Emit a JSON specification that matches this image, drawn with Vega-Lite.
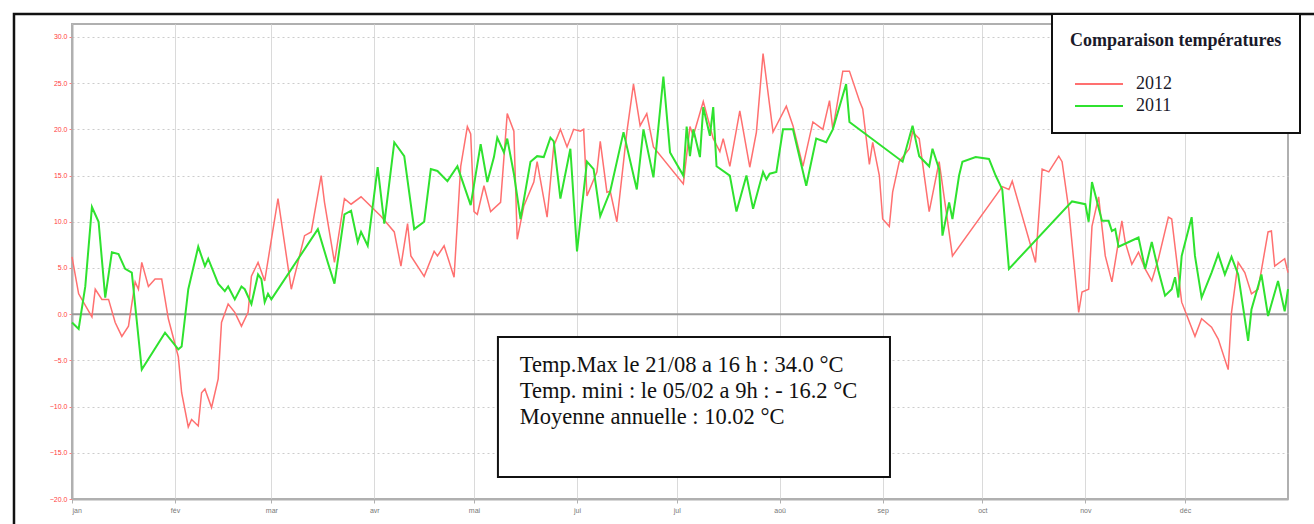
{
  "$schema": "https://vega.github.io/schema/vega-lite/v6.json",
  "width": 1216,
  "height": 475,
  "autosize": {"type": "none"},
  "padding": {"left": 72, "top": 24, "right": 26, "bottom": 25},
  "background": "white",
  "config": {
    "view": {"stroke": "#b0b0b0", "strokeWidth": 2},
    "font": "Liberation Sans"
  },
  "data": {"values": [
    {"serie":"2012","jour":0,"temp":6.2},{"serie":"2012","jour":2,"temp":2.2},{"serie":"2012","jour":6,"temp":-0.3},{"serie":"2012","jour":7,"temp":2.7},{"serie":"2012","jour":9,"temp":1.6},{"serie":"2012","jour":11,"temp":1.6},{"serie":"2012","jour":13,"temp":-0.9},{"serie":"2012","jour":15,"temp":-2.4},{"serie":"2012","jour":17,"temp":-1.3},{"serie":"2012","jour":19,"temp":3.5},{"serie":"2012","jour":20,"temp":2.7},{"serie":"2012","jour":21,"temp":5.6},{"serie":"2012","jour":23,"temp":3.0},{"serie":"2012","jour":25,"temp":3.8},{"serie":"2012","jour":27,"temp":3.8},{"serie":"2012","jour":29,"temp":-0.5},{"serie":"2012","jour":32,"temp":-4.6},{"serie":"2012","jour":33,"temp":-8.5},{"serie":"2012","jour":35,"temp":-12.2},{"serie":"2012","jour":36,"temp":-11.4},{"serie":"2012","jour":38,"temp":-12.1},{"serie":"2012","jour":39,"temp":-8.5},{"serie":"2012","jour":40,"temp":-8.1},{"serie":"2012","jour":42,"temp":-10.1},{"serie":"2012","jour":44,"temp":-7.0},{"serie":"2012","jour":45,"temp":-0.9},{"serie":"2012","jour":47,"temp":1.1},{"serie":"2012","jour":49,"temp":0.2},{"serie":"2012","jour":51,"temp":-1.3},{"serie":"2012","jour":53,"temp":0.2},{"serie":"2012","jour":54,"temp":4.1},{"serie":"2012","jour":56,"temp":5.6},{"serie":"2012","jour":58,"temp":3.6},{"serie":"2012","jour":62,"temp":12.5},{"serie":"2012","jour":66,"temp":2.7},{"serie":"2012","jour":70,"temp":8.5},{"serie":"2012","jour":72,"temp":8.9},{"serie":"2012","jour":75,"temp":15.0},{"serie":"2012","jour":76,"temp":12.1},{"serie":"2012","jour":79,"temp":5.6},{"serie":"2012","jour":82,"temp":12.5},{"serie":"2012","jour":84,"temp":11.9},{"serie":"2012","jour":87,"temp":12.7},{"serie":"2012","jour":93,"temp":10.6},{"serie":"2012","jour":97,"temp":8.9},{"serie":"2012","jour":99,"temp":5.2},{"serie":"2012","jour":101,"temp":9.8},{"serie":"2012","jour":102,"temp":6.3},{"serie":"2012","jour":106,"temp":4.1},{"serie":"2012","jour":109,"temp":6.8},{"serie":"2012","jour":110,"temp":6.3},{"serie":"2012","jour":112,"temp":7.4},{"serie":"2012","jour":115,"temp":4.0},{"serie":"2012","jour":117,"temp":16.0},{"serie":"2012","jour":119,"temp":20.3},{"serie":"2012","jour":120,"temp":19.5},{"serie":"2012","jour":121,"temp":11.1},{"serie":"2012","jour":122,"temp":10.8},{"serie":"2012","jour":124,"temp":13.9},{"serie":"2012","jour":126,"temp":11.1},{"serie":"2012","jour":129,"temp":12.1},{"serie":"2012","jour":131,"temp":21.7},{"serie":"2012","jour":133,"temp":19.8},{"serie":"2012","jour":134,"temp":8.1},{"serie":"2012","jour":136,"temp":11.7},{"serie":"2012","jour":139,"temp":14.3},{"serie":"2012","jour":140,"temp":16.5},{"serie":"2012","jour":143,"temp":10.5},{"serie":"2012","jour":145,"temp":18.2},{"serie":"2012","jour":147,"temp":20.0},{"serie":"2012","jour":149,"temp":18.1},{"serie":"2012","jour":151,"temp":20.0},{"serie":"2012","jour":153,"temp":19.8},{"serie":"2012","jour":154,"temp":20.0},{"serie":"2012","jour":155,"temp":12.8},{"serie":"2012","jour":158,"temp":15.4},{"serie":"2012","jour":159,"temp":18.7},{"serie":"2012","jour":161,"temp":13.2},{"serie":"2012","jour":162,"temp":13.3},{"serie":"2012","jour":164,"temp":10.0},{"serie":"2012","jour":167,"temp":19.7},{"serie":"2012","jour":169,"temp":24.9},{"serie":"2012","jour":171,"temp":20.4},{"serie":"2012","jour":173,"temp":21.7},{"serie":"2012","jour":175,"temp":18.1},{"serie":"2012","jour":184,"temp":14.1},{"serie":"2012","jour":186,"temp":20.3},{"serie":"2012","jour":187,"temp":19.3},{"serie":"2012","jour":190,"temp":23.0},{"serie":"2012","jour":193,"temp":19.0},{"serie":"2012","jour":195,"temp":17.6},{"serie":"2012","jour":196,"temp":19.0},{"serie":"2012","jour":198,"temp":16.0},{"serie":"2012","jour":201,"temp":22.0},{"serie":"2012","jour":204,"temp":15.9},{"serie":"2012","jour":206,"temp":19.7},{"serie":"2012","jour":208,"temp":28.2},{"serie":"2012","jour":211,"temp":19.7},{"serie":"2012","jour":215,"temp":22.5},{"serie":"2012","jour":217,"temp":20.4},{"serie":"2012","jour":220,"temp":16.0},{"serie":"2012","jour":223,"temp":20.8},{"serie":"2012","jour":226,"temp":20.0},{"serie":"2012","jour":228,"temp":23.1},{"serie":"2012","jour":229,"temp":20.0},{"serie":"2012","jour":232,"temp":26.3},{"serie":"2012","jour":234,"temp":26.3},{"serie":"2012","jour":237,"temp":23.1},{"serie":"2012","jour":238,"temp":22.2},{"serie":"2012","jour":240,"temp":16.2},{"serie":"2012","jour":241,"temp":18.6},{"serie":"2012","jour":243,"temp":15.0},{"serie":"2012","jour":244,"temp":10.3},{"serie":"2012","jour":246,"temp":9.5},{"serie":"2012","jour":247,"temp":13.2},{"serie":"2012","jour":249,"temp":16.5},{"serie":"2012","jour":252,"temp":17.9},{"serie":"2012","jour":253,"temp":19.7},{"serie":"2012","jour":255,"temp":19.0},{"serie":"2012","jour":258,"temp":11.1},{"serie":"2012","jour":261,"temp":16.5},{"serie":"2012","jour":265,"temp":6.3},{"serie":"2012","jour":280,"temp":13.8},{"serie":"2012","jour":282,"temp":13.5},{"serie":"2012","jour":283,"temp":14.4},{"serie":"2012","jour":290,"temp":5.6},{"serie":"2012","jour":292,"temp":15.7},{"serie":"2012","jour":294,"temp":15.4},{"serie":"2012","jour":297,"temp":17.1},{"serie":"2012","jour":298,"temp":16.5},{"serie":"2012","jour":300,"temp":11.4},{"serie":"2012","jour":303,"temp":0.2},{"serie":"2012","jour":304,"temp":2.4},{"serie":"2012","jour":306,"temp":2.7},{"serie":"2012","jour":307,"temp":9.5},{"serie":"2012","jour":309,"temp":12.7},{"serie":"2012","jour":311,"temp":6.3},{"serie":"2012","jour":313,"temp":3.5},{"serie":"2012","jour":316,"temp":10.1},{"serie":"2012","jour":317,"temp":7.8},{"serie":"2012","jour":319,"temp":5.4},{"serie":"2012","jour":321,"temp":6.7},{"serie":"2012","jour":323,"temp":4.9},{"serie":"2012","jour":325,"temp":3.6},{"serie":"2012","jour":327,"temp":6.0},{"serie":"2012","jour":330,"temp":10.5},{"serie":"2012","jour":331,"temp":10.3},{"serie":"2012","jour":333,"temp":4.3},{"serie":"2012","jour":334,"temp":1.3},{"serie":"2012","jour":338,"temp":-2.4},{"serie":"2012","jour":340,"temp":-0.5},{"serie":"2012","jour":343,"temp":-1.4},{"serie":"2012","jour":345,"temp":-2.7},{"serie":"2012","jour":348,"temp":-6.0},{"serie":"2012","jour":349,"temp":0.2},{"serie":"2012","jour":351,"temp":5.6},{"serie":"2012","jour":353,"temp":4.5},{"serie":"2012","jour":355,"temp":2.2},{"serie":"2012","jour":357,"temp":2.7},{"serie":"2012","jour":360,"temp":8.9},{"serie":"2012","jour":361,"temp":9.0},{"serie":"2012","jour":362,"temp":5.2},{"serie":"2012","jour":365,"temp":6.0},{"serie":"2012","jour":366,"temp":4.5},
    {"serie":"2011","jour":0,"temp":-0.9},{"serie":"2011","jour":2,"temp":-1.6},{"serie":"2011","jour":4,"temp":3.0},{"serie":"2011","jour":6,"temp":11.6},{"serie":"2011","jour":8,"temp":10.0},{"serie":"2011","jour":10,"temp":1.8},{"serie":"2011","jour":12,"temp":6.7},{"serie":"2011","jour":14,"temp":6.5},{"serie":"2011","jour":16,"temp":4.9},{"serie":"2011","jour":18,"temp":4.5},{"serie":"2011","jour":21,"temp":-6.0},{"serie":"2011","jour":28,"temp":-2.0},{"serie":"2011","jour":32,"temp":-3.8},{"serie":"2011","jour":33,"temp":-3.5},{"serie":"2011","jour":35,"temp":2.7},{"serie":"2011","jour":38,"temp":7.3},{"serie":"2011","jour":40,"temp":5.2},{"serie":"2011","jour":41,"temp":6.0},{"serie":"2011","jour":44,"temp":3.3},{"serie":"2011","jour":46,"temp":2.5},{"serie":"2011","jour":47,"temp":3.0},{"serie":"2011","jour":49,"temp":1.6},{"serie":"2011","jour":51,"temp":3.0},{"serie":"2011","jour":52,"temp":2.7},{"serie":"2011","jour":54,"temp":1.1},{"serie":"2011","jour":56,"temp":4.3},{"serie":"2011","jour":57,"temp":3.8},{"serie":"2011","jour":58,"temp":1.3},{"serie":"2011","jour":59,"temp":2.2},{"serie":"2011","jour":60,"temp":1.6},{"serie":"2011","jour":74,"temp":9.2},{"serie":"2011","jour":77,"temp":5.6},{"serie":"2011","jour":79,"temp":3.3},{"serie":"2011","jour":82,"temp":10.8},{"serie":"2011","jour":84,"temp":11.2},{"serie":"2011","jour":86,"temp":7.8},{"serie":"2011","jour":87,"temp":8.9},{"serie":"2011","jour":89,"temp":7.4},{"serie":"2011","jour":92,"temp":15.9},{"serie":"2011","jour":94,"temp":9.8},{"serie":"2011","jour":97,"temp":18.6},{"serie":"2011","jour":100,"temp":17.1},{"serie":"2011","jour":103,"temp":9.2},{"serie":"2011","jour":106,"temp":10.0},{"serie":"2011","jour":108,"temp":15.7},{"serie":"2011","jour":110,"temp":15.5},{"serie":"2011","jour":113,"temp":14.4},{"serie":"2011","jour":116,"temp":16.0},{"serie":"2011","jour":120,"temp":11.8},{"serie":"2011","jour":123,"temp":18.4},{"serie":"2011","jour":125,"temp":14.3},{"serie":"2011","jour":127,"temp":17.0},{"serie":"2011","jour":128,"temp":19.1},{"serie":"2011","jour":130,"temp":17.5},{"serie":"2011","jour":131,"temp":19.0},{"serie":"2011","jour":133,"temp":15.2},{"serie":"2011","jour":135,"temp":10.3},{"serie":"2011","jour":138,"temp":16.5},{"serie":"2011","jour":140,"temp":17.1},{"serie":"2011","jour":142,"temp":17.0},{"serie":"2011","jour":144,"temp":19.1},{"serie":"2011","jour":145,"temp":18.7},{"serie":"2011","jour":147,"temp":12.5},{"serie":"2011","jour":150,"temp":17.9},{"serie":"2011","jour":152,"temp":6.8},{"serie":"2011","jour":155,"temp":16.5},{"serie":"2011","jour":157,"temp":15.7},{"serie":"2011","jour":159,"temp":10.6},{"serie":"2011","jour":162,"temp":13.3},{"serie":"2011","jour":166,"temp":19.7},{"serie":"2011","jour":170,"temp":13.5},{"serie":"2011","jour":172,"temp":20.0},{"serie":"2011","jour":175,"temp":14.8},{"serie":"2011","jour":178,"temp":25.7},{"serie":"2011","jour":180,"temp":17.5},{"serie":"2011","jour":184,"temp":15.0},{"serie":"2011","jour":185,"temp":20.3},{"serie":"2011","jour":186,"temp":17.1},{"serie":"2011","jour":187,"temp":20.0},{"serie":"2011","jour":189,"temp":17.0},{"serie":"2011","jour":190,"temp":22.4},{"serie":"2011","jour":192,"temp":19.3},{"serie":"2011","jour":193,"temp":22.4},{"serie":"2011","jour":194,"temp":16.0},{"serie":"2011","jour":198,"temp":15.0},{"serie":"2011","jour":200,"temp":11.1},{"serie":"2011","jour":203,"temp":15.0},{"serie":"2011","jour":205,"temp":11.4},{"serie":"2011","jour":208,"temp":15.4},{"serie":"2011","jour":209,"temp":14.6},{"serie":"2011","jour":210,"temp":15.2},{"serie":"2011","jour":212,"temp":15.4},{"serie":"2011","jour":214,"temp":20.0},{"serie":"2011","jour":217,"temp":20.0},{"serie":"2011","jour":221,"temp":13.9},{"serie":"2011","jour":224,"temp":19.0},{"serie":"2011","jour":227,"temp":18.6},{"serie":"2011","jour":229,"temp":20.0},{"serie":"2011","jour":233,"temp":24.9},{"serie":"2011","jour":234,"temp":20.8},{"serie":"2011","jour":250,"temp":16.5},{"serie":"2011","jour":253,"temp":20.4},{"serie":"2011","jour":255,"temp":17.1},{"serie":"2011","jour":258,"temp":16.0},{"serie":"2011","jour":259,"temp":17.9},{"serie":"2011","jour":261,"temp":15.7},{"serie":"2011","jour":262,"temp":8.5},{"serie":"2011","jour":264,"temp":12.1},{"serie":"2011","jour":265,"temp":10.3},{"serie":"2011","jour":267,"temp":15.0},{"serie":"2011","jour":268,"temp":16.5},{"serie":"2011","jour":272,"temp":17.0},{"serie":"2011","jour":276,"temp":16.8},{"serie":"2011","jour":278,"temp":15.0},{"serie":"2011","jour":280,"temp":13.5},{"serie":"2011","jour":282,"temp":4.9},{"serie":"2011","jour":301,"temp":12.2},{"serie":"2011","jour":305,"temp":11.9},{"serie":"2011","jour":306,"temp":10.0},{"serie":"2011","jour":307,"temp":14.3},{"serie":"2011","jour":310,"temp":10.1},{"serie":"2011","jour":312,"temp":10.1},{"serie":"2011","jour":313,"temp":9.0},{"serie":"2011","jour":314,"temp":9.2},{"serie":"2011","jour":315,"temp":7.3},{"serie":"2011","jour":321,"temp":8.3},{"serie":"2011","jour":323,"temp":4.9},{"serie":"2011","jour":325,"temp":7.8},{"serie":"2011","jour":327,"temp":4.7},{"serie":"2011","jour":329,"temp":2.0},{"serie":"2011","jour":331,"temp":2.7},{"serie":"2011","jour":332,"temp":4.0},{"serie":"2011","jour":333,"temp":1.8},{"serie":"2011","jour":334,"temp":6.3},{"serie":"2011","jour":337,"temp":10.5},{"serie":"2011","jour":338,"temp":6.3},{"serie":"2011","jour":340,"temp":1.8},{"serie":"2011","jour":343,"temp":4.5},{"serie":"2011","jour":345,"temp":6.5},{"serie":"2011","jour":347,"temp":4.3},{"serie":"2011","jour":349,"temp":6.2},{"serie":"2011","jour":351,"temp":4.3},{"serie":"2011","jour":354,"temp":-2.9},{"serie":"2011","jour":355,"temp":0.5},{"serie":"2011","jour":358,"temp":4.3},{"serie":"2011","jour":360,"temp":-0.2},{"serie":"2011","jour":363,"temp":3.6},{"serie":"2011","jour":365,"temp":0.3},{"serie":"2011","jour":366,"temp":2.7}
  ]},
  "layer": [
    {
      "data": {"values": [{"cadre": "page"}]},
      "mark": {"type": "rect", "fill": null, "stroke": "#111111", "strokeWidth": 2.5},
      "encoding": {
        "x": {"datum": -17.46, "type": "quantitative", "scale": {"domain": [0, 366], "nice": false, "zero": false},
              "axis": {"values": [0,31,60,91,121,152,182,213,244,274,305,335], "labelExpr": "['jan','fév','mar','avr','mai','jui','jul','aoû','sep','oct','nov','déc'][indexof([0,31,60,91,121,152,182,213,244,274,305,335], datum.value)]", "title": null, "grid": true, "gridColor": "#dadada", "gridWidth": 1, "domainColor": "#b0b0b0", "domainWidth": 2, "tickColor": "#b0b0b0", "tickSize": 4, "labelColor": "#777777", "labelFontSize": 7, "labelPadding": 3}},
        "x2": {"datum": 430},
        "y": {"datum": 32.48, "type": "quantitative", "scale": {"domain": [-20, 31.4], "nice": false, "zero": false},
              "axis": {"values": [-20,-15,-10,-5,0,5,10,15,20,25,30], "format": ".1f", "title": null, "grid": true, "gridColor": "#cccccc", "gridDash": [2, 3], "gridWidth": 1, "domainColor": "#b0b0b0", "domainWidth": 2, "tickColor": "#ff8080", "tickSize": 3, "labelColor": "#ff4040", "labelFontSize": 7, "labelPadding": 2}},
        "y2": {"datum": -30}
      }
    },
    {
      "data": {"values": [{"niveau": 0}]},
      "mark": {"type": "rule", "color": "#999999", "strokeWidth": 2},
      "encoding": {"y": {"field": "niveau", "type": "quantitative"}}
    },
    {
      "transform": [{"filter": "datum.serie == '2012'"}],
      "mark": {"type": "line", "strokeWidth": 1.5, "interpolate": "linear"},
      "encoding": {
        "x": {"field": "jour", "type": "quantitative"},
        "y": {"field": "temp", "type": "quantitative"},
        "color": {"field": "serie", "type": "nominal",
                  "scale": {"domain": ["2012", "2011"], "range": ["#ff7070", "#2fe22f"]},
                  "legend": {"orient": "none", "legendX": 980, "legendY": -10, "title": "Comparaison températures\u00a0\u00a0\u00a0\u00a0\u00a0\u00a0\u00a0", "titleLimit": 500, "titleFont": "Liberation Serif", "titleFontSize": 18, "titleFontWeight": "bold", "titleColor": "#1a1a2a", "titlePadding": 25, "labelFont": "Liberation Serif", "labelFontSize": 18, "labelColor": "#1a1a2a", "labelOffset": 48, "symbolType": "M-1,0H11", "symbolSize": 64, "symbolStrokeWidth": 2, "symbolFillColor": "transparent", "rowPadding": 4, "padding": 18, "strokeColor": "#111111", "fillColor": "white",
                             "encode": {"legend": {"update": {"strokeWidth": {"value": 2}}}, "symbols": {"update": {"stroke": {"signal": "datum.value == '2012' ? '#ff2a2a' : '#3c9a5c'"}, "fill": {"value": "transparent"}}}}}}
      }
    },
    {
      "transform": [{"filter": "datum.serie == '2011'"}],
      "mark": {"type": "line", "strokeWidth": 2, "interpolate": "linear"},
      "encoding": {
        "x": {"field": "jour", "type": "quantitative"},
        "y": {"field": "temp", "type": "quantitative"},
        "color": {"field": "serie", "type": "nominal",
                  "scale": {"domain": ["2012", "2011"], "range": ["#ff7070", "#2fe22f"]}}
      }
    },
    {
      "data": {"values": [{"cadre": "note"}]},
      "mark": {"type": "rect", "fill": "white", "stroke": "#111111", "strokeWidth": 2},
      "encoding": {
        "x": {"datum": 128.2, "type": "quantitative"},
        "x2": {"datum": 246.2},
        "y": {"datum": -2.47, "type": "quantitative"},
        "y2": {"datum": -17.62}
      }
    },
    {
      "data": {"values": [{"lignes": ["Temp.Max le 21/08 a 16 h : 34.0 °C", "Temp. mini : le 05/02 a 9h : - 16.2 °C", "Moyenne annuelle : 10.02 °C"]}]},
      "mark": {"type": "text", "align": "left", "baseline": "top", "font": "Liberation Serif", "fontSize": 22.5, "lineHeight": 26, "color": "#111111"},
      "encoding": {
        "x": {"datum": 134.8, "type": "quantitative"},
        "y": {"datum": -4.3, "type": "quantitative"},
        "text": {"field": "lignes"}
      }
    }
  ]
}
